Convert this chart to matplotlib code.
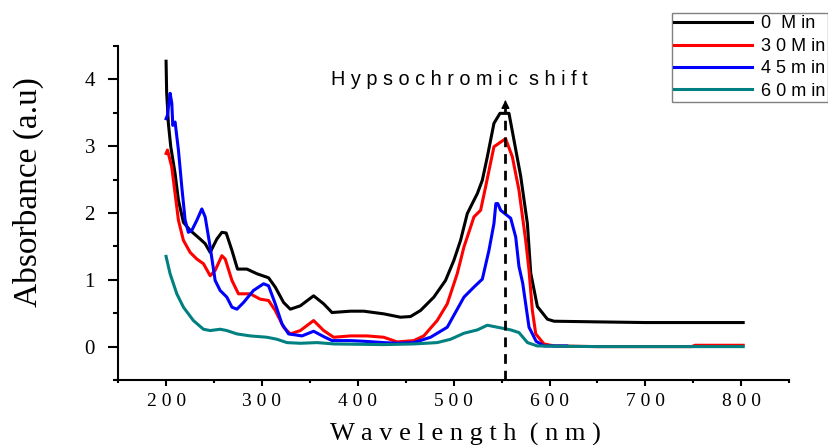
import matplotlib
matplotlib.use("Agg")
import matplotlib.pyplot as plt
from matplotlib.ticker import MultipleLocator

wl_0 = [200, 200.6, 202.4, 204.9, 209.4, 212.9, 218.1, 225.1, 235.5, 240.8, 246, 253, 258.2,
        262.7, 268.7, 274.5, 284.3, 294.8, 306.9, 313.9, 322.6, 329.6, 340, 353.9, 364.4,
        373.1, 392.3, 406.2, 427.1, 444.5, 455, 465.4, 479.3, 491.5, 500.2, 507.2, 514.2,
        519.4, 524.7, 529.9, 535.1, 542, 548.3, 557.7, 562.9, 569.9, 576.9, 580.4, 587.3,
        597.8, 604.7, 650, 700, 750, 802]
abs_0 = [4.27, 3.81, 3.34, 2.99, 2.59, 2.19, 1.86, 1.74, 1.61, 1.54, 1.41, 1.61, 1.71,
         1.70, 1.44, 1.16, 1.16, 1.09, 1.03, 0.89, 0.66, 0.56, 0.61, 0.76, 0.64,
         0.51, 0.53, 0.53, 0.49, 0.44, 0.45, 0.54, 0.74, 0.99, 1.29, 1.59, 1.99,
         2.14, 2.29, 2.49, 2.84, 3.34, 3.49, 3.49, 3.09, 2.55, 1.84, 1.10, 0.60,
         0.41, 0.38, 0.37, 0.36, 0.36, 0.36]

wl_30 = [200, 201.5, 205.9, 209.4, 212.9, 218.1, 225.1, 232.1, 239, 246, 251.2, 258.2, 261.7,
         268.7, 275.5, 287.8, 298.2, 306.9, 313.9, 322.6, 329.6, 340, 353.9, 364.4, 374.8,
         392.3, 409.7, 427.1, 441, 458.4, 468.8, 482.8, 493.3, 503.7, 510.7, 517.7, 521.1,
         528.1, 533.3, 542, 549, 554.2, 561.2, 568.1, 575.1, 578.6, 582, 585.6, 594.2,
         604.7, 650, 700, 748, 752, 802]
abs_30 = [2.89, 2.94, 2.69, 2.29, 1.89, 1.59, 1.41, 1.31, 1.24, 1.06, 1.14, 1.36, 1.31,
          0.99, 0.79, 0.79, 0.71, 0.69, 0.54, 0.29, 0.19, 0.24, 0.39, 0.24, 0.14,
          0.16, 0.16, 0.14, 0.07, 0.09, 0.16, 0.39, 0.64, 1.09, 1.49, 1.79, 1.94,
          2.04, 2.39, 2.99, 3.06, 3.11, 2.84, 2.34, 1.59, 1.14, 0.55, 0.19, 0.04,
          0.01, 0.0, 0.0, 0.0, 0.02, 0.02]

wl_45 = [200, 201.4, 204.2, 206, 207, 209.4, 212.9, 216.4, 219.9, 223.3, 226.9, 232.1, 237.3,
         240.8, 246, 251.2, 256.4, 263.4, 268.7, 273.9, 280.8, 291.2, 301.7, 306.9, 313.9,
         320.9, 327.8, 341.8, 353.9, 364.4, 373.1, 392.3, 406.2, 427.1, 441, 458.4, 475.9,
         493.3, 510.7, 521.1, 529.9, 536.8, 542, 544, 546, 549, 559.5, 564.7, 568.1, 572,
         578.6, 586, 594.2, 618]
abs_45 = [3.41, 3.46, 3.79, 3.64, 3.31, 3.36, 2.94, 2.39, 1.89, 1.71, 1.74, 1.89, 2.06,
          1.94, 1.49, 0.99, 0.84, 0.74, 0.59, 0.56, 0.66, 0.84, 0.94, 0.91, 0.64,
          0.34, 0.19, 0.16, 0.23, 0.15, 0.09, 0.09, 0.08, 0.06, 0.05, 0.06, 0.14,
          0.29, 0.74, 0.89, 1.01, 1.44, 1.84, 2.14, 2.14, 2.04, 1.92, 1.64, 1.20, 0.95,
          0.29, 0.08, 0.01, 0.01]

wl_60 = [200, 204.2, 211.2, 218.1, 228.5, 239, 246, 256.4, 263.4, 273.9, 287.8, 305.2, 315.7,
         326.1, 340, 357.5, 375, 427.1, 458.4, 482.8, 496.8, 510.7, 524.7, 535.1, 545.6,
         559.5, 568.1, 577, 587.3, 650, 700, 750, 802]
abs_60 = [1.35, 1.09, 0.79, 0.59, 0.39, 0.26, 0.24, 0.26, 0.24, 0.19, 0.16, 0.14, 0.11,
          0.06, 0.05, 0.06, 0.04, 0.03, 0.04, 0.06, 0.11, 0.20, 0.25, 0.32, 0.29,
          0.25, 0.21, 0.06, 0.01, 0.0, 0.0, 0.0, 0.0]

labels = ["0  M in", "3 0 M in", "4 5 m in", "6 0 m in"]
x_ticks = [200, 300, 400, 500, 600, 700, 800]
x_ticklabels = ["2 0 0", "3 0 0", "4 0 0", "5 0 0", "6 0 0", "7 0 0", "8 0 0"]
y_ticks = [0, 1, 2, 3, 4]
shift_wl = 554
shift_top = 3.73

serif = "Liberation Serif"
sans = "Liberation Sans"

fig = plt.figure(figsize=(8.29, 4.45), dpi=100)
ax = fig.add_axes([0.1425, 0.146, 0.952 - 0.1425, 0.897 - 0.146])

lw = 2.2
l0, = ax.plot(wl_0, abs_0, color="black", lw=lw)
l1, = ax.plot(wl_30, abs_30, color="#ff0000", lw=lw)
l2, = ax.plot(wl_45, abs_45, color="#0000ff", lw=lw)
l3, = ax.plot(wl_60, abs_60, color="#008080", lw=lw)

# dashed marker line with arrow head
ax.plot([shift_wl, shift_wl], [-0.5, shift_top - 0.1], color="black", lw=2,
        linestyle=(0, (3.5, 2.5)), zorder=5)
ax.annotate("", xy=(shift_wl, shift_top), xytext=(shift_wl, shift_top - 0.12),
            arrowprops=dict(arrowstyle="-|>", color="black", lw=1, mutation_scale=12),
            zorder=6)
ax.text(506, 3.91, "H y p s o c h r o m i c  s h i f t", family=sans, fontsize=14.3,
        ha="center", va="baseline")

ax.set_xlim(150, 850)
ax.set_ylim(-0.5, 4.5)
ax.set_xticks(x_ticks)
ax.set_xticklabels(x_ticklabels, family=serif, fontsize=14)
ax.set_yticks(y_ticks)
ax.set_yticklabels([str(v) for v in y_ticks], family=serif, fontsize=15)
ax.xaxis.set_minor_locator(MultipleLocator(50))
ax.yaxis.set_minor_locator(MultipleLocator(0.5))
ax.tick_params(axis="x", which="major", length=4.3, width=1.5, pad=5)
ax.tick_params(axis="x", which="minor", length=2.5, width=1.5)
ax.tick_params(axis="y", which="major", length=7.2, width=1.5, pad=9.5)
ax.tick_params(axis="y", which="minor", length=3.6, width=1.5)

for side in ["top", "right"]:
    ax.spines[side].set_visible(False)
for side in ["left", "bottom"]:
    ax.spines[side].set_linewidth(1.5)

fig.text(465 / 829, 1 - 434 / 445, "W a v e l e n g t h  ( n m )", family=serif,
         fontsize=19, ha="center", va="center")
fig.text(28 / 829, 1 - 192 / 445, "Absorbance (a.u)", family=serif, fontsize=24,
         rotation=90, ha="center", va="center")

leg = fig.legend([l0, l1, l2, l3], labels, loc="upper left",
                 bbox_to_anchor=(671.7 / 829, 1 - 12.7 / 445), borderaxespad=0,
                 borderpad=0.15, handlelength=4.3, handletextpad=0.5, labelspacing=0.3,
                 fancybox=False, framealpha=1, prop={"family": sans, "size": 13})
leg.get_frame().set_edgecolor("#808080")
leg.get_frame().set_linewidth(1)

fig.savefig("out.png", dpi=100)
